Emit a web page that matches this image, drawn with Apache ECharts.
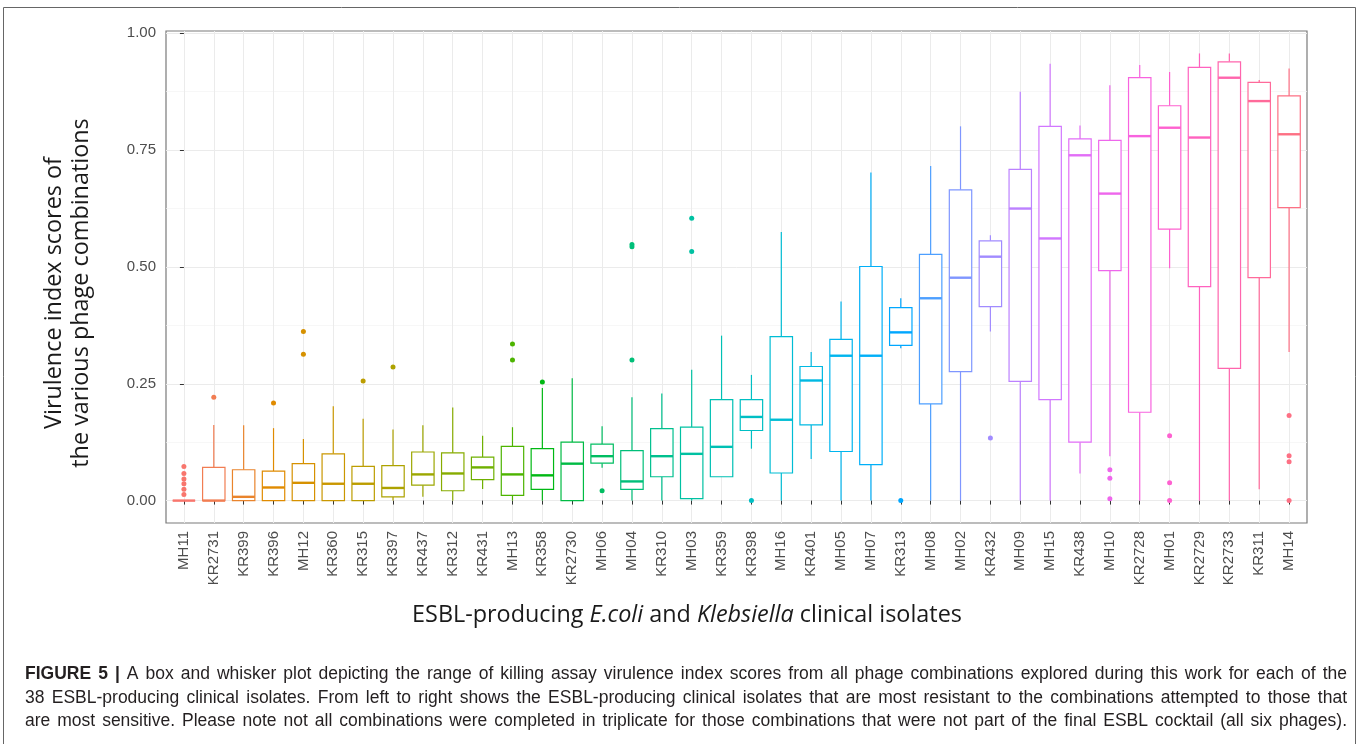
<!DOCTYPE html>
<html><head><meta charset="utf-8">
<script src="https://cdn.jsdelivr.net/npm/echarts@6/dist/echarts.min.js"></script>
<style>html,body{margin:0;padding:0;background:#fff}#c{width:1357px;height:744px}</style>
</head><body><div id="c"></div><script>
// ---------------- data ----------------
const categories = ['MH11','KR2731','KR399','KR396','MH12','KR360','KR315','KR397','KR437','KR312','KR431','MH13','KR358','KR2730','MH06','MH04','KR310','MH03','KR359','KR398','MH16','KR401','MH05','MH07','KR313','MH08','MH02','KR432','MH09','MH15','KR438','MH10','KR2728','MH01','KR2729','KR2733','KR311','MH14'];
const whiskerLow  = [0,0,0,0,0,0,0,0,0.008,0,0.025,0,0,0,0.070,0,0,0,0.051,0.111,0,0.089,0,0,0.326,0,0,0.362,0,0,0.058,0.095,0,0.497,0,0,0.024,0.318];
const q1          = [0,0,0,0,0,0,0,0.008,0.033,0.021,0.045,0.011,0.024,0,0.080,0.024,0.051,0.004,0.051,0.150,0.059,0.162,0.105,0.077,0.332,0.207,0.276,0.415,0.255,0.216,0.125,0.492,0.189,0.581,0.458,0.283,0.477,0.627];
const median      = [0,0,0.008,0.028,0.038,0.036,0.036,0.027,0.056,0.058,0.071,0.056,0.054,0.079,0.095,0.041,0.095,0.100,0.115,0.179,0.173,0.257,0.310,0.310,0.360,0.433,0.477,0.522,0.625,0.561,0.739,0.657,0.780,0.798,0.777,0.905,0.855,0.784];
const q3          = [0,0.071,0.066,0.063,0.079,0.100,0.073,0.075,0.104,0.102,0.093,0.116,0.111,0.125,0.121,0.107,0.154,0.157,0.216,0.216,0.351,0.287,0.345,0.501,0.413,0.527,0.665,0.556,0.709,0.801,0.774,0.771,0.905,0.845,0.927,0.939,0.895,0.866];
const whiskerHigh = [0,0.162,0.161,0.155,0.132,0.202,0.175,0.152,0.161,0.199,0.139,0.157,0.241,0.262,0.159,0.221,0.229,0.280,0.353,0.269,0.575,0.318,0.426,0.702,0.433,0.716,0.801,0.568,0.875,0.935,0.803,0.889,0.932,0.917,0.957,0.957,0.900,0.925];
const outlierIsolate = ['MH11','MH11','MH11','MH11','MH11','MH11','KR2731','KR396','MH12','MH12','KR315','KR397','MH13','MH13','KR358','MH06','MH04','MH04','MH04','MH03','MH03','KR398','KR313','KR432','MH10','MH10','MH10','MH01','MH01','MH01','MH14','MH14','MH14','MH14'];
const outlierValue   = [0.073,0.058,0.046,0.036,0.024,0.013,0.221,0.209,0.362,0.313,0.256,0.286,0.335,0.301,0.254,0.021,0.548,0.543,0.301,0.604,0.533,0,0,0.134,0.066,0.048,0.004,0.139,0.038,0,0.182,0.096,0.083,0];
const yMajorTicks = [0, 0.25, 0.5, 0.75, 1.0];
const yMinorTicks = [0.125, 0.375, 0.625, 0.875];
const xTitle = ['ESBL-producing ', 'E.coli', ' and ', 'Klebsiella', ' clinical isolates'];
const yTitle = ['Virulence index scores of', 'the various phage combinations'];
const captionLines = [
 'FIGURE 5 | A box and whisker plot depicting the range of killing assay virulence index scores from all phage combinations explored during this work for each of the',
 '38 ESBL-producing clinical isolates. From left to right shows the ESBL-producing clinical isolates that are most resistant to the combinations attempted to those that',
 'are most sensitive. Please note not all combinations were completed in triplicate for those combinations that were not part of the final ESBL cocktail (all six phages).'
];

// ---------------- style helpers ----------------
function hcl(h, c, l) {
  const hr = h * Math.PI / 180;
  const U = c * Math.cos(hr), V = c * Math.sin(hr);
  const Xn = 95.047, Yn = 100.0, Zn = 108.883;
  const den = Xn + 15 * Yn + 3 * Zn;
  const un = 4 * Xn / den, vn = 9 * Yn / den;
  const Y = l > 7.999592 ? Yn * Math.pow((l + 16) / 116, 3) : Yn * l / 903.3;
  const u = U / (13 * l) + un, v = V / (13 * l) + vn;
  const X = 9 * Y * u / (4 * v);
  const Z = -X / 3 - 5 * Y + 3 * Y / v;
  const x = X / 100, y = Y / 100, z = Z / 100;
  const g = t => t <= 0.0031308 ? 12.92 * t : 1.055 * Math.pow(t, 1 / 2.4) - 0.055;
  const r = g(3.240479 * x - 1.537150 * y - 0.498535 * z);
  const gg = g(-0.969256 * x + 1.875992 * y + 0.041556 * z);
  const b = g(0.055648 * x - 0.204043 * y + 1.057311 * z);
  const hx = t => { const k = Math.round(Math.max(0, Math.min(1, t)) * 255); return (k < 16 ? '0' : '') + k.toString(16); };
  return '#' + hx(r) + hx(gg) + hx(b);
}
const n = categories.length;
const palette = categories.map((_, i) => hcl(15 + 360 * i / n, 100, 65));

const mctx = document.createElement('canvas').getContext('2d');
function measure(text, font) { mctx.font = font; return mctx.measureText(text).width; }

const TITLE_FAMILY = '"Open Sans", "Noto Sans", sans-serif';
let tw = 0;
xTitle.forEach((s, k) => { tw += measure(s, (k % 2 ? 'italic ' : '') + '20px ' + TITLE_FAMILY); });
const titleSize = Math.round(20 * 550 / tw * 10) / 10;

// ---------------- caption (justified) ----------------
const CAP_FAMILY = '"Liberation Sans", Arial, sans-serif';
const capLeft = 25, capRight = 1347, capBottom = [683, 707, 730.5];
function lineWidth(line, li, size) {
  return line.split(' ').reduce((a, w, k) => a + measure(w, ((li === 0 && k < 3) ? 'bold ' : '') + size + 'px ' + CAP_FAMILY), 0)
       + (line.split(' ').length - 1) * measure(' ', size + 'px ' + CAP_FAMILY);
}
const capFit = Math.min.apply(null, captionLines.map((l, li) => 16 * (capRight - capLeft - 4) / lineWidth(l, li, 16)));
const CAP_FONT = Math.min(17.5, Math.floor(capFit * 10) / 10);
const captionEls = [];
captionLines.forEach((line, li) => {
  const words = line.split(' ');
  const bold = words.map((w, k) => li === 0 && k < 3);
  const widths = words.map((w, k) => measure(w, (bold[k] ? 'bold ' : '') + CAP_FONT + 'px ' + CAP_FAMILY));
  const total = widths.reduce((a, b) => a + b, 0);
  const gap = (capRight - capLeft - total) / (words.length - 1);
  let xx = capLeft;
  words.forEach((w, k) => {
    captionEls.push({ type: 'text', x: xx, y: capBottom[li], silent: true,
      style: { text: w, fontSize: CAP_FONT, fontFamily: CAP_FAMILY, fontWeight: bold[k] ? 'bold' : 'normal',
               fill: '#231f20', textAlign: 'left', textVerticalAlign: 'bottom', verticalAlign: 'bottom' } });
    xx += widths[k] + gap;
  });
});

// ---------------- chart ----------------
const boxData = categories.map((c, i) => [i, whiskerLow[i], q1[i], median[i], q3[i], whiskerHigh[i]]);
const outData = outlierIsolate.map((name, k) => [categories.indexOf(name), outlierValue[k]]);

const chart = echarts.init(document.getElementById('c'), null, { renderer: 'canvas' });
const tickFont = { color: '#4d4d4d', fontFamily: '"Liberation Sans", Arial, sans-serif' };

chart.setOption({
  animation: false,
  backgroundColor: '#fff',
  grid: { left: 166, right: 50, top: 31, bottom: 221, show: true, backgroundColor: '#fff', borderColor: '#7a7a7a', borderWidth: 1.2 },
  xAxis: {
    type: 'value', min: -0.6, max: n - 1 + 0.6,
    axisLine: { show: false },
    axisTick: { show: true, length: 4, lineStyle: { color: '#333', width: 1 }, customValues: categories.map((_, i) => i) },
    axisLabel: { ...tickFont, fontSize: 15, rotate: 90, margin: 8, customValues: categories.map((_, i) => i),
                 formatter: v => categories[Math.round(v)] },
    splitLine: { show: true, lineStyle: { color: '#ebebeb', width: 1 } }
  },
  yAxis: [{
    type: 'value', min: -0.048, max: 1.005,
    axisLine: { show: false },
    axisTick: { show: true, length: 4, lineStyle: { color: '#333', width: 1 }, customValues: yMajorTicks },
    axisLabel: { ...tickFont, fontSize: 15, margin: 10, customValues: yMajorTicks, formatter: v => v.toFixed(2) },
    splitLine: { show: true, lineStyle: { color: '#ebebeb', width: 1 } }
  }, {
    type: 'value', min: -0.048, max: 1.005, position: 'left',
    axisLine: { show: false },
    axisTick: { show: false, customValues: yMinorTicks },
    axisLabel: { show: false, customValues: yMinorTicks },
    splitLine: { show: true, lineStyle: { color: '#f3f3f3', width: 0.7 } }
  }],
  series: [{
    type: 'custom',
    data: boxData,
    encode: { x: 0, y: [1, 2, 3, 4, 5] },
    z: 3,
    renderItem: function (params, api) {
      const i = api.value(0);
      const lo = api.coord([i, api.value(1)]);
      const b1 = api.coord([i, api.value(2)]);
      const md = api.coord([i, api.value(3)]);
      const b3 = api.coord([i, api.value(4)]);
      const hi = api.coord([i, api.value(5)]);
      const w = api.size([0.75, 0])[0];
      const x = lo[0], col = palette[i];
      return { type: 'group', children: [
        { type: 'line', shape: { x1: x, y1: hi[1], x2: x, y2: b3[1] }, style: { stroke: col, lineWidth: 1.2 } },
        { type: 'line', shape: { x1: x, y1: b1[1], x2: x, y2: lo[1] }, style: { stroke: col, lineWidth: 1.2 } },
        { type: 'rect', shape: { x: x - w / 2, y: b3[1], width: w, height: b1[1] - b3[1] }, style: { fill: '#fff', stroke: col, lineWidth: 1.2 } },
        { type: 'line', shape: { x1: x - w / 2, y1: md[1], x2: x + w / 2, y2: md[1] }, style: { stroke: col, lineWidth: 2.4 } }
      ]};
    }
  }, {
    type: 'scatter',
    data: outData,
    symbolSize: 5,
    z: 4,
    itemStyle: { color: p => palette[p.value[0]], opacity: 1 }
  }],
  graphic: [
    { type: 'rect', silent: true, shape: { x: 3.5, y: 7.5, width: 1352, height: 800 }, style: { fill: 'none', stroke: '#666', lineWidth: 1 }, z: 0 },
    { type: 'text', silent: true, x: 687, y: 615,
      style: { text: xTitle.map((s, k) => '{' + (k % 2 ? 'i' : 'n') + '|' + s + '}').join(''),
               textAlign: 'center', textVerticalAlign: 'middle', verticalAlign: 'middle',
               rich: { n: { fontSize: titleSize, fontFamily: TITLE_FAMILY, fill: '#1a1a1a' },
                       i: { fontSize: titleSize, fontFamily: TITLE_FAMILY, fontStyle: 'italic', fill: '#1a1a1a' } } } },
    { type: 'text', silent: true, x: 67.5, y: 293, rotation: Math.PI / 2,
      style: { text: yTitle.join('\n'), fontSize: titleSize, fontFamily: TITLE_FAMILY, fill: '#1a1a1a', lineHeight: 27,
               textAlign: 'center', textVerticalAlign: 'middle', verticalAlign: 'middle', align: 'center' } }
  ].concat(captionEls)
});
</script></body></html>
